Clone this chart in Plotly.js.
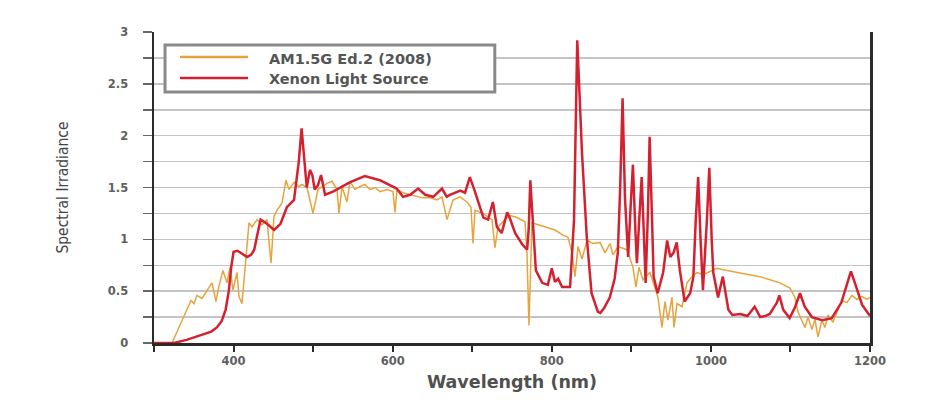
<!DOCTYPE html>
<html>
<head>
<meta charset="utf-8">
<script src="https://cdn.plot.ly/plotly-3.0.1.min.js"></script>
<style>html,body{margin:0;padding:0;background:#fff;}#chart{width:940px;height:400px;}</style>
</head>
<body>
<div id="chart"></div>
<script>
// AM1.5G Ed.2 (2008) reference spectrum
var amWl = [322.6,337.7,346.5,350.3,354,360.3,366.6,372.9,377.9,381.7,386.7,391.8,395.5,399.3,404.3,406.8,410.6,415.6,419.4,423.2,429.5,435.7,442,447.1,450.8,454.6,460.9,465.9,469.7,476,482.3,486,492.3,499.8,506.1,517.4,523.7,530,532.5,536.3,542.6,546.4,552.6,558.9,565.2,571.5,577.8,584.1,592.9,600.4,602.9,605.4,613,621.8,630.6,638.1,646.9,655.7,662,668.3,675.8,684.6,693.4,698.4,701,703.5,713.5,724.8,728.6,732.4,741.2,747.5,756.3,766.3,768.8,771.3,775.1,782.7,793.9,804,814.1,820.4,825.4,829.2,833,838,844.3,851.8,860.6,866.9,873.2,876.9,883.2,894.5,902.1,905.8,909.6,914.6,923.4,933.5,938.5,942.3,946,951.1,953.6,957.4,963.7,970,976.3,982.5,990,998.8,1007.6,1020.2,1032.8,1045.4,1061.7,1074.3,1086.8,1099.4,1105.7,1109.5,1114.5,1118.3,1122,1127.1,1130.8,1134.6,1139.6,1143.4,1147.2,1153.4,1159.7,1164.8,1171,1177.3,1183.6,1189.9,1196.2,1200];
var amVal = [0,0.25,0.41,0.38,0.46,0.43,0.51,0.58,0.40,0.55,0.70,0.58,0.73,0.51,0.68,0.45,0.38,0.80,1.16,1.12,1.19,1.14,1.19,0.77,1.22,1.28,1.35,1.57,1.48,1.55,1.51,1.53,1.50,1.25,1.48,1.54,1.56,1.48,1.25,1.51,1.36,1.56,1.48,1.51,1.53,1.48,1.50,1.46,1.48,1.46,1.26,1.48,1.45,1.43,1.41,1.40,1.40,1.38,1.41,1.19,1.38,1.41,1.36,1.31,0.96,1.28,1.25,1.19,0.92,1.12,1.19,1.23,1.21,1.17,0.87,0.17,1.16,1.14,1.11,1.09,1.04,1.02,0.87,0.64,0.93,0.81,0.99,0.96,0.97,0.87,0.96,0.85,0.93,0.90,0.73,0.54,0.73,0.61,0.68,0.44,0.15,0.40,0.22,0.44,0.15,0.38,0.35,0.58,0.64,0.68,0.66,0.69,0.72,0.70,0.68,0.66,0.64,0.61,0.58,0.53,0.44,0.30,0.22,0.15,0.25,0.13,0.23,0.06,0.22,0.15,0.27,0.20,0.32,0.41,0.39,0.46,0.42,0.45,0.42,0.44];

// Xenon light source spectrum
var xeWl = [300,325,341,352,363,372,379,385,390,394,397,400,405,409,417,422,426,430,434,442,451,459,467,476,480,482,485.5,489,492,496,499,502,506,510,515,525,546,565,584,605,613,622,632,641,651,662,668,672,685,691,697,703,714,720,726,731,737,744,747,754,763,769,771,773,776,780,788,795,800,804,808,813,823,828,832,838,844,850,858,861,866,873,879,883,886,889,892,896,899,902,905,907,910,913,916,918,921,923,926,928,933,940,945,949,953,957,961,967,974,978,981,984,987,990,995,998,1001,1003,1009,1015,1022,1027,1037,1046,1055,1062,1068,1074,1083,1086,1091,1099,1106,1112,1118,1127,1140,1152,1164,1171,1176,1181,1190,1200];
var xeVal = [0,0,0.03,0.06,0.09,0.11,0.15,0.21,0.32,0.50,0.73,0.88,0.89,0.87,0.83,0.85,0.90,1.05,1.19,1.15,1.09,1.15,1.31,1.38,1.60,1.75,2.07,1.72,1.50,1.67,1.62,1.48,1.52,1.62,1.43,1.46,1.55,1.61,1.57,1.49,1.41,1.43,1.49,1.43,1.41,1.49,1.41,1.43,1.47,1.45,1.60,1.47,1.21,1.19,1.36,1.12,1.06,1.26,1.21,1.06,0.95,0.90,1.10,1.57,1.19,0.70,0.58,0.56,0.72,0.59,0.62,0.54,0.54,1.19,2.92,1.83,1.02,0.48,0.30,0.29,0.34,0.44,0.62,0.87,1.50,2.36,1.40,0.83,1.30,1.72,1.10,0.77,1.20,1.60,1.00,0.58,1.30,1.99,1.20,0.64,0.48,0.68,0.99,0.83,0.87,0.97,0.70,0.40,0.48,0.64,1.19,1.60,1.00,0.51,1.19,1.69,1.00,0.68,0.44,0.64,0.32,0.27,0.28,0.26,0.35,0.25,0.26,0.28,0.39,0.46,0.32,0.24,0.35,0.48,0.35,0.25,0.22,0.24,0.39,0.58,0.69,0.58,0.37,0.26];

var seriesNames = ['AM1.5G Ed.2 (2008)', 'Xenon Light Source'];
var xTickVals = [400,600,800,1000,1200];
var xTickText = ['400','600','800','1000','1200'];
var yTickVals = [0,0.5,1,1.5,2,2.5,3];
var yTickText = ['0','0.5','1','1.5','2','2.5','3'];

var orange = '#E6A53C';
var red = '#D42130';
var gridC = '#C4C4C4';
var axisC = '#2a2a2a';
var tickFont = {family: 'DejaVu Sans, sans-serif', size: 11.5, color: '#606060', weight: 'bold'};
var labelFont = {family: 'DejaVu Sans, sans-serif', size: 14.5, color: '#555', weight: 'bold'};

var traces = [
  {x: amWl, y: amVal, type: 'scatter', mode: 'lines', name: seriesNames[0],
   line: {color: orange, width: 1.5}, showlegend: false},
  {x: xeWl, y: xeVal, type: 'scatter', mode: 'lines', name: seriesNames[1],
   line: {color: red, width: 2.5}, showlegend: false}
];

// legend box geometry (paper coordinates)
var lx0 = 0.0154, lx1 = 0.476, ly0 = 0.807, ly1 = 0.958;
var sx0 = 0.0363, sx1 = 0.1313, tx = 0.1578;
var row1 = 0.9196, row2 = 0.852;

var layout = {
  width: 940, height: 400,
  margin: {l: 154, r: 70, t: 32, b: 57},
  paper_bgcolor: '#fff', plot_bgcolor: '#fff',
  showlegend: false,
  xaxis: {
    range: [300, 1200], tickvals: xTickVals, ticktext: xTickText,
    ticks: 'outside', ticklen: 6, tickwidth: 2, tickcolor: axisC,
    minor: {tickvals: [300,500,700,900,1100], ticks: 'outside', ticklen: 6, tickwidth: 2, tickcolor: axisC, showgrid: false},
    showgrid: false, zeroline: false,
    showline: true, linecolor: axisC, linewidth: 2.5,
    tickfont: tickFont,
    title: {text: 'Wavelength (nm)', font: {family: 'DejaVu Sans, sans-serif', size: 17.5, color: '#505050', weight: 'bold'}, standoff: 9}
  },
  yaxis: {
    range: [0, 3], tickvals: yTickVals, ticktext: yTickText,
    ticks: 'outside', ticklen: 9, tickwidth: 1.5, tickcolor: '#666',
    ticklabelstandoff: 12,
    minor: {dtick: 0.25, tick0: 0, ticks: 'outside', ticklen: 9, tickwidth: 1.5, tickcolor: '#666', showgrid: true, gridcolor: gridC, gridwidth: 1.5},
    showgrid: true, gridcolor: gridC, gridwidth: 1.5, zeroline: false,
    showline: true, linecolor: axisC, linewidth: 2.5, mirror: true,
    tickfont: tickFont,
    title: {text: 'Spectral Irradiance', font: {family: 'DejaVu Sans Condensed, Liberation Sans Narrow, sans-serif', size: 15.5, color: '#444'}, standoff: 36}
  },
  shapes: [
    {type: 'rect', xref: 'paper', yref: 'paper', x0: lx0, x1: lx1, y0: ly0, y1: ly1,
     line: {color: '#8a8a8a', width: 3}, fillcolor: '#fff', layer: 'above'},
    {type: 'line', xref: 'paper', yref: 'paper', x0: sx0, x1: sx1, y0: row1, y1: row1,
     line: {color: orange, width: 2.5}, layer: 'above'},
    {type: 'line', xref: 'paper', yref: 'paper', x0: sx0, x1: sx1, y0: row2, y1: row2,
     line: {color: red, width: 2.5}, layer: 'above'}
  ],
  annotations: [
    {xref: 'paper', yref: 'paper', x: tx, y: row1 - 0.008, xanchor: 'left', yanchor: 'middle', showarrow: false,
     text: seriesNames[0], font: labelFont},
    {xref: 'paper', yref: 'paper', x: tx, y: row2 - 0.003, xanchor: 'left', yanchor: 'middle', showarrow: false,
     text: seriesNames[1], font: labelFont}
  ]
};

Plotly.newPlot('chart', traces, layout, {displayModeBar: false, staticPlot: true});
</script>
</body>
</html>
